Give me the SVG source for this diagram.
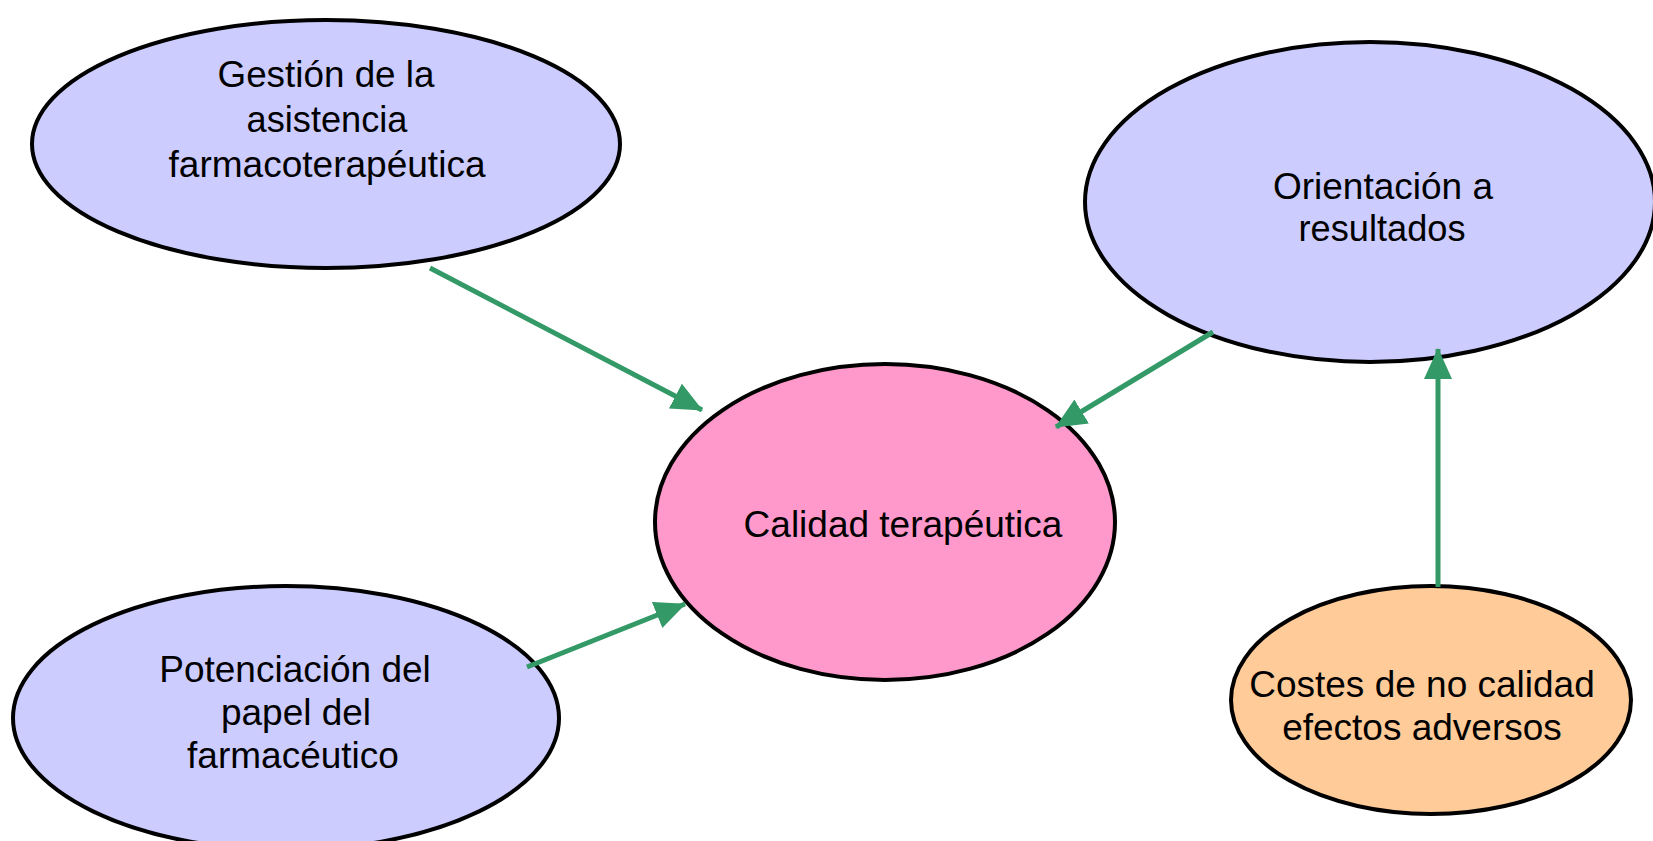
<svg xmlns="http://www.w3.org/2000/svg" width="1653" height="841" viewBox="0 0 1653 841">
<style>
.node{stroke:#000;stroke-width:4}
.lav{fill:#CCCCFF}
.pink{fill:#FF99CC}
.orange{fill:#FFCC99}
text{font-family:"Liberation Sans",Arial,sans-serif;font-size:37px;fill:#000;text-anchor:middle}
.conn line{stroke:#339966;stroke-width:5;marker-end:url(#arr)}
</style>
<defs>
<marker id="arr" markerUnits="userSpaceOnUse" markerWidth="32" markerHeight="30" refX="30" refY="14" orient="auto">
<path d="M0,0 L31,14 L0,28 z" fill="#339966"/>
</marker>
</defs>
<rect width="1653" height="841" fill="#fff"/>
<g id="gestion">
<ellipse class="node lav" cx="326" cy="144" rx="294" ry="124"/>
<text x="326" y="87" font-size="31" textLength="217" lengthAdjust="spacingAndGlyphs">Gestión de la</text>
<text x="327" y="132" font-size="31" textLength="161" lengthAdjust="spacingAndGlyphs">asistencia</text>
<text x="327" y="177" font-size="31" textLength="317" lengthAdjust="spacingAndGlyphs">farmacoterapéutica</text>
</g>
<g id="orientacion">
<ellipse class="node lav" cx="1370" cy="202" rx="285" ry="160"/>
<text x="1383" y="199" font-size="34" textLength="220" lengthAdjust="spacingAndGlyphs">Orientación a</text>
<text x="1382" y="241" font-size="34" textLength="167" lengthAdjust="spacingAndGlyphs">resultados</text>
</g>
<g id="calidad">
<ellipse class="node pink" cx="885" cy="522" rx="230" ry="158"/>
<text x="903" y="537">Calidad terapéutica</text>
</g>
<g id="potenciacion">
<ellipse class="node lav" cx="286" cy="718" rx="273" ry="132"/>
<text x="295" y="682">Potenciación del</text>
<text x="296" y="725">papel del</text>
<text x="293" y="768">farmacéutico</text>
</g>
<g id="costes">
<ellipse class="node orange" cx="1431" cy="700" rx="200" ry="114"/>
<text x="1422" y="697">Costes de no calidad</text>
<text x="1422" y="740">efectos adversos</text>
</g>
<g id="connectors" class="conn">
<line x1="430" y1="268" x2="702" y2="410"/>
<line x1="1213" y1="332" x2="1056" y2="427"/>
<line x1="527" y1="667" x2="685" y2="604"/>
<line x1="1438" y1="587" x2="1438" y2="349"/>
</g>
</svg>
